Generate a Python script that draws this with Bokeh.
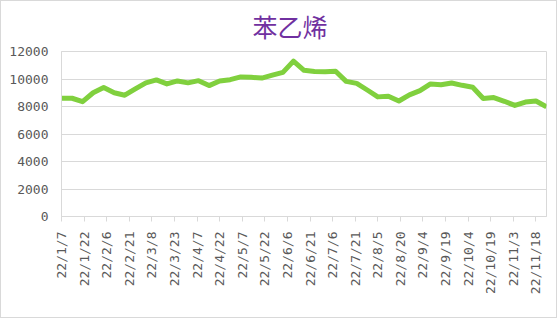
import pandas as pd
from bokeh.plotting import figure
from bokeh.models import FixedTicker, Range1d, Title
from bokeh.embed import file_html
from bokeh.resources import INLINE

# ---- data ----
start_date = "2022-01-07"
end_date = "2022-11-25"
prices = [8600, 8600, 8350, 9000, 9380, 9000, 8820, 9280, 9720, 9930,
          9640, 9860, 9720, 9880, 9520, 9850, 9950, 10150, 10120, 10070,
          10280, 10480, 11300, 10630, 10550, 10520, 10560, 9830, 9680, 9200,
          8700, 8750, 8400, 8850, 9150, 9640, 9580, 9710, 9540, 9400,
          8580, 8650, 8380, 8080, 8320, 8400, 7980]
tick_labels = ["22/1/7", "22/1/22", "22/2/6", "22/2/21", "22/3/8", "22/3/23",
               "22/4/7", "22/4/22", "22/5/7", "22/5/22", "22/6/6", "22/6/21",
               "22/7/6", "22/7/21", "22/8/5", "22/8/20", "22/9/4", "22/9/19",
               "22/10/4", "22/10/19", "22/11/3", "22/11/18"]
y_ticks = [0, 2000, 4000, 6000, 8000, 10000, 12000]
title_text = "苯乙烯"

dates = pd.date_range(start_date, end_date, freq="7D")
t0 = pd.Timestamp(start_date)
xs = [(d - t0).days for d in dates]
span = (pd.Timestamp(end_date) - t0).days
tick_pos = [15 * i for i in range(len(tick_labels))]

grid_col = "#d9d9d9"
label_col = "#595959"
label_font = "DejaVu Sans Mono"

p = figure(width=557, height=318, output_backend="svg", toolbar_location=None,
           x_range=Range1d(0, span), y_range=Range1d(0, 12000),
           min_border_left=60, min_border_right=12, min_border_top=49,
           min_border_bottom=103)
p.styles = {"border": "1px solid #d9d9d9"}
p.title = Title(text=title_text, align="left", text_color="#7030A0",
                text_font="Noto Sans CJK SC", text_font_size="25px",
                text_font_style="normal", offset=191, standoff=12,
                vertical_align="top")

p.line(xs, prices, line_color="#80D03E", line_width=5, line_join="round")

p.outline_line_color = grid_col
p.background_fill_color = "white"
p.border_fill_color = "white"

p.xaxis.ticker = FixedTicker(ticks=tick_pos)
p.xaxis.major_label_overrides = {tp: lab for tp, lab in zip(tick_pos, tick_labels)}
p.xaxis.major_label_orientation = 3.14159265 / 2
p.xaxis.axis_line_color = grid_col
p.xaxis.major_tick_line_color = grid_col
p.xaxis.major_tick_in = 0
p.xaxis.major_tick_out = 5
p.xaxis.minor_tick_line_color = None
p.xaxis.major_label_standoff = 10
p.xaxis.major_label_text_font = label_font
p.xaxis.major_label_text_font_size = "13px"
p.xaxis.major_label_text_color = label_col

p.yaxis.ticker = FixedTicker(ticks=y_ticks)
p.yaxis.axis_line_color = grid_col
p.yaxis.major_tick_line_color = None
p.yaxis.minor_tick_line_color = None
p.yaxis.major_tick_out = 0
p.yaxis.major_tick_in = 0
p.yaxis.major_label_standoff = 13
p.yaxis.major_label_text_font = label_font
p.yaxis.major_label_text_font_size = "13px"
p.yaxis.major_label_text_color = label_col

p.xgrid.grid_line_color = None
p.ygrid.grid_line_color = grid_col
p.ygrid.grid_line_width = 1

open("out.html", "w").write(file_html(p, INLINE))
